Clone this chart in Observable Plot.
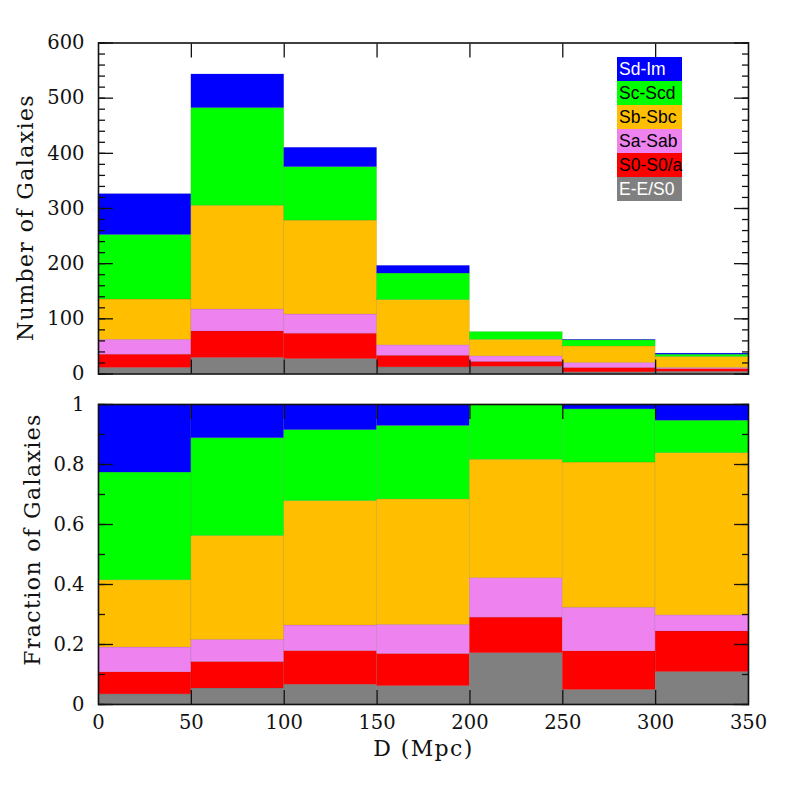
<!DOCTYPE html>
<html>
<head>
<meta charset="utf-8">
<script src="https://cdn.jsdelivr.net/npm/d3@7"></script>
<script src="https://cdn.jsdelivr.net/npm/@observablehq/plot@0.6"></script>
<style>
  body { margin: 0; background: #fff; }
  #wrap { position: relative; width: 789px; height: 789px; }
  #wrap svg { position: absolute; left: 0; }
  #legend { position: absolute; left: 617px; top: 57px; width: 65px; font-family: "Liberation Sans", Arial, sans-serif; font-size: 17.5px; }
  #legend div { height: 24px; line-height: 24px; padding-left: 2px; white-space: nowrap; }
</style>
</head>
<body>
<div id="wrap"></div>
<script>
// Bin edges (Mpc)
const binEdges = [0, 50, 100, 150, 200, 250, 300, 350];
// Morphological types, bottom to top
const types = ["E-E/S0", "S0-S0/a", "Sa-Sab", "Sb-Sbc", "Sc-Scd", "Sd-Im"];
const typeColors = ["#808080", "#ff0000", "#ee82ee", "#ffbf00", "#00ff00", "#0000ff"];
const legendTextColors = ["#fff", "#000", "#000", "#000", "#000", "#fff"];
// Galaxy counts per distance bin, one array per type
const countE  = [11, 29, 27, 12, 13, 3, 4];
const countS0 = [24, 48, 46, 21, 9, 8, 5];
const countSa = [27, 40, 35, 19, 10, 9, 2];
const countSb = [73, 188, 170, 82, 30, 30, 20];
const countSc = [117, 177, 97, 48, 14, 11, 4];
const countSd = [74, 61, 35, 14, 0, 1, 2];
// Tick values
const xTicks = [0, 50, 100, 150, 200, 250, 300, 350];
const yTicksTop = [0, 100, 200, 300, 400, 500, 600];
const yMinorTop = d3.range(0, 601, 20);
const yTicksBottom = [0, 0.2, 0.4, 0.6, 0.8, 1];
const yMinorBottom = d3.range(0, 1.001, 0.1).map(v => +v.toFixed(1));

const seriesByType = [countE, countS0, countSa, countSb, countSc, countSd];
const rows = [];
for (let i = 0; i < binEdges.length - 1; i++) {
  types.forEach((t, j) => {
    rows.push({x1: binEdges[i], x2: binEdges[i + 1], type: t, count: seriesByType[j][i]});
  });
}

const serif = "'DejaVu Serif', serif";
const font = {fontFamily: serif, fontSize: "19.5px", color: "#111", background: "transparent", overflow: "visible"};
const blank = () => "";

function frameTicks(yMajor, yMinor, xMajorInner) {
  return [
    Plot.axisY({anchor: "left", label: null, ticks: yMajor, tickSize: 15, insetLeft: 15, tickFormat: blank, strokeWidth: 1.3}),
    Plot.axisY({anchor: "left", label: null, ticks: yMinor, tickSize: 7, insetLeft: 7, tickFormat: blank, strokeWidth: 1.3}),
    Plot.axisY({anchor: "right", label: null, ticks: yMajor, tickSize: 15, insetRight: 15, tickFormat: blank, strokeWidth: 1.3}),
    Plot.axisY({anchor: "right", label: null, ticks: yMinor, tickSize: 7, insetRight: 7, tickFormat: blank, strokeWidth: 1.3}),
    Plot.axisX({anchor: "top", label: null, ticks: xMajorInner, tickSize: 14, insetTop: 14, tickFormat: blank, strokeWidth: 1.3}),
    Plot.axisX({anchor: "bottom", label: null, ticks: xMajorInner, tickSize: 14, insetBottom: 14, tickFormat: blank, strokeWidth: 1.3}),
    Plot.frame({stroke: "#111", strokeWidth: 1.6})
  ];
}

const xInner = xTicks.slice(1, -1);
const seam = {stroke: "rgba(0,0,0,0.13)", strokeWidth: 0.7};

const topPanel = Plot.plot({
  width: 789, height: 389,
  marginLeft: 98, marginRight: 41, marginTop: 42.5, marginBottom: 15.5,
  style: font,
  x: {domain: [0, 350], axis: null},
  y: {domain: [0, 600], axis: null},
  color: {domain: types, range: typeColors},
  marks: [
    Plot.rectY(rows, {x1: "x1", x2: "x2", y: "count", fill: "type", ...seam}),
    Plot.axisY({anchor: "left", label: null, ticks: yTicksTop, tickSize: 0, tickPadding: 14, tickFormat: d => String(d)}),
    ...frameTicks(yTicksTop, yMinorTop, xInner),
    Plot.text(["Number of Galaxies"], {frameAnchor: "left", textAnchor: "middle", dx: -73, dy: 9, rotate: -90, fontSize: 22, fontFamily: serif})
  ]
});
topPanel.style.top = "0px";

const bottomPanel = Plot.plot({
  width: 789, height: 400,
  marginLeft: 98, marginRight: 41, marginTop: 15, marginBottom: 85,
  style: font,
  x: {domain: [0, 350], axis: null},
  y: {domain: [0, 1], axis: null},
  color: {domain: types, range: typeColors},
  marks: [
    Plot.rectY(rows, {x1: "x1", x2: "x2", y: "count", fill: "type", offset: "normalize", ...seam}),
    Plot.axisY({anchor: "left", label: null, ticks: yTicksBottom, tickSize: 0, tickPadding: 14, tickFormat: d => (d === 0 || d === 1) ? String(d) : d.toFixed(1)}),
    Plot.axisX({anchor: "bottom", label: null, ticks: xTicks, tickSize: 0, tickPadding: 11, tickFormat: d => String(d)}),
    ...frameTicks(yTicksBottom, yMinorBottom, xInner),
    Plot.text(["Fraction of Galaxies"], {frameAnchor: "left", textAnchor: "middle", dx: -66, dy: -15, rotate: -90, fontSize: 22, fontFamily: serif}),
    Plot.text(["D (Mpc)"], {frameAnchor: "bottom", textAnchor: "middle", dy: 51, fontSize: 22, fontFamily: serif})
  ]
});
bottomPanel.style.top = "389px";

const wrap = document.getElementById("wrap");
wrap.appendChild(topPanel);
wrap.appendChild(bottomPanel);

// widen the axis titles a little to match the original lettering
d3.selectAll([topPanel, bottomPanel]).selectAll("text")
  .filter(function () { return /Galaxies|Mpc/.test(this.textContent); })
  .style("letter-spacing", "1.4px");

const legend = document.createElement("div");
legend.id = "legend";
for (let j = types.length - 1; j >= 0; j--) {
  const row = document.createElement("div");
  row.textContent = types[j];
  row.style.background = typeColors[j];
  row.style.color = legendTextColors[j];
  legend.appendChild(row);
}
wrap.appendChild(legend);
</script>
</body>
</html>
